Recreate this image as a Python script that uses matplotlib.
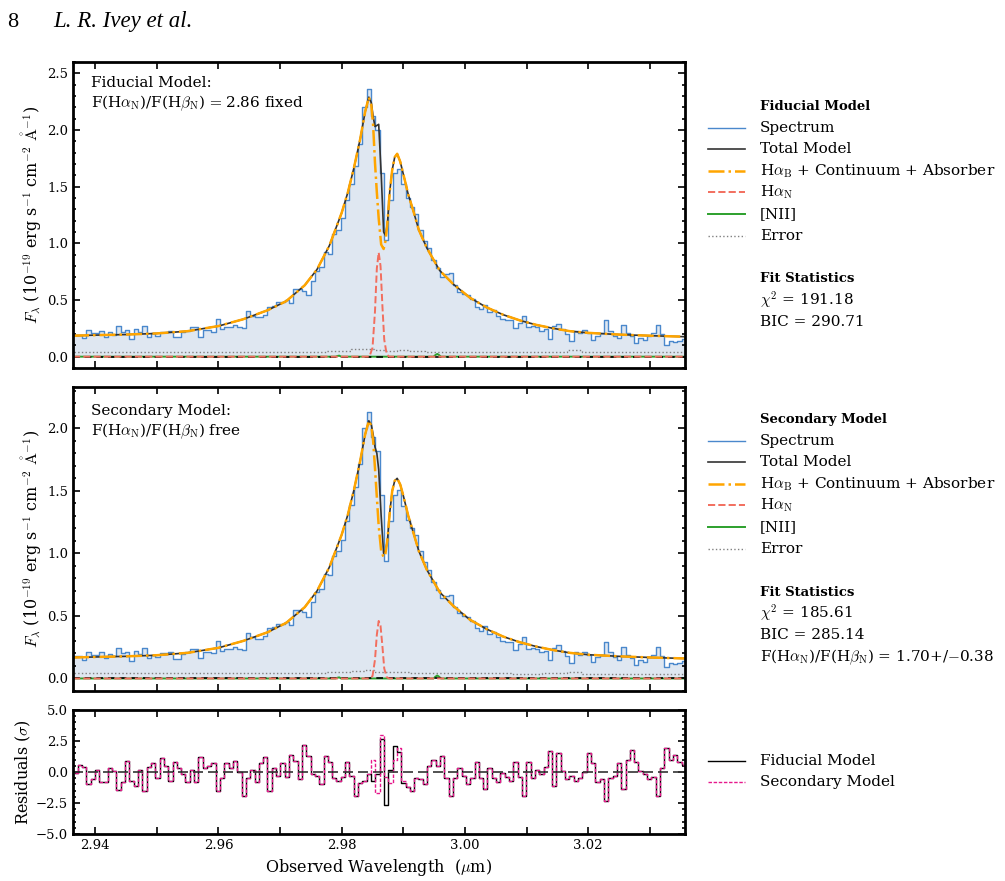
import numpy as np
import matplotlib
matplotlib.use("Agg")
import matplotlib.pyplot as plt
from matplotlib.lines import Line2D
from matplotlib.ticker import MultipleLocator

plt.rcParams.update({
    "font.family": "serif",
    "font.serif": ["DejaVu Serif"],
    "mathtext.fontset": "cm",
    "font.size": 11,
})

# ---- data ----
wave = [
    2.9368, 2.9375, 2.9382, 2.9389, 2.9396, 2.9403, 2.9410, 2.9417, 2.9424, 2.9431,
    2.9438, 2.9445, 2.9452, 2.9459, 2.9466, 2.9473, 2.9480, 2.9487, 2.9494, 2.9501,
    2.9508, 2.9515, 2.9522, 2.9529, 2.9536, 2.9543, 2.9550, 2.9557, 2.9564, 2.9571,
    2.9578, 2.9585, 2.9592, 2.9599, 2.9606, 2.9613, 2.9620, 2.9627, 2.9634, 2.9641,
    2.9648, 2.9655, 2.9662, 2.9669, 2.9676, 2.9683, 2.9690, 2.9697, 2.9704, 2.9711,
    2.9718, 2.9725, 2.9732, 2.9739, 2.9746, 2.9753, 2.9760, 2.9767, 2.9774, 2.9781,
    2.9788, 2.9795, 2.9802, 2.9809, 2.9816, 2.9823, 2.9830, 2.9837, 2.9844, 2.9851,
    2.9858, 2.9865, 2.9872, 2.9879, 2.9886, 2.9893, 2.9900, 2.9907, 2.9914, 2.9921,
    2.9928, 2.9935, 2.9942, 2.9949, 2.9956, 2.9963, 2.9970, 2.9977, 2.9984, 2.9991,
    2.9998, 3.0005, 3.0012, 3.0019, 3.0026, 3.0033, 3.0040, 3.0047, 3.0054, 3.0061,
    3.0068, 3.0075, 3.0082, 3.0089, 3.0096, 3.0103, 3.0110, 3.0117, 3.0124, 3.0131,
    3.0138, 3.0145, 3.0152, 3.0159, 3.0166, 3.0173, 3.0180, 3.0187, 3.0194, 3.0201,
    3.0208, 3.0215, 3.0222, 3.0229, 3.0236, 3.0243, 3.0250, 3.0257, 3.0264, 3.0271,
    3.0278, 3.0285, 3.0292, 3.0299, 3.0306, 3.0313, 3.0320, 3.0327, 3.0334, 3.0341,
    3.0348, 3.0355,
]

flux_fid = [
    0.194, 0.194, 0.165, 0.235, 0.21, 0.206, 0.23, 0.176, 0.215, 0.194,
    0.27, 0.22, 0.235, 0.156, 0.24, 0.215, 0.27, 0.176, 0.206, 0.185,
    0.22, 0.22, 0.23, 0.17, 0.17, 0.215, 0.23, 0.26, 0.26, 0.176,
    0.235, 0.235, 0.22, 0.33, 0.24, 0.26, 0.26, 0.28, 0.26, 0.25,
    0.40, 0.36, 0.35, 0.35, 0.37, 0.44, 0.45, 0.48, 0.48, 0.50,
    0.47, 0.60, 0.60, 0.58, 0.54, 0.67, 0.76, 0.79, 0.92, 0.91,
    1.08, 1.12, 1.22, 1.38, 1.52, 1.68, 1.88, 2.20, 2.36, 2.12,
    2.00, 1.62, 1.03, 1.38, 1.62, 1.66, 1.52, 1.40, 1.32, 1.26,
    1.12, 1.02, 0.96, 0.85, 0.78, 0.70, 0.73, 0.74, 0.63, 0.57,
    0.55, 0.54, 0.51, 0.44, 0.42, 0.46, 0.39, 0.41, 0.36, 0.33,
    0.32, 0.32, 0.25, 0.30, 0.36, 0.26, 0.27, 0.26, 0.23, 0.24,
    0.16, 0.27, 0.29, 0.24, 0.20, 0.14, 0.23, 0.21, 0.235, 0.21,
    0.147, 0.185, 0.21, 0.32, 0.23, 0.185, 0.165, 0.28, 0.21, 0.18,
    0.12, 0.165, 0.147, 0.185, 0.21, 0.28, 0.20, 0.10, 0.14, 0.127,
    0.135, 0.156,
]

flux_sec = [
    0.177, 0.177, 0.150, 0.214, 0.191, 0.187, 0.209, 0.160, 0.196, 0.177,
    0.246, 0.200, 0.214, 0.142, 0.218, 0.196, 0.246, 0.160, 0.187, 0.168,
    0.200, 0.200, 0.209, 0.155, 0.155, 0.196, 0.209, 0.237, 0.237, 0.160,
    0.214, 0.214, 0.200, 0.300, 0.218, 0.237, 0.237, 0.255, 0.237, 0.228,
    0.364, 0.328, 0.319, 0.319, 0.337, 0.400, 0.410, 0.437, 0.437, 0.455,
    0.428, 0.546, 0.546, 0.528, 0.491, 0.610, 0.692, 0.719, 0.837, 0.828,
    0.983, 1.019, 1.110, 1.256, 1.383, 1.529, 1.711, 2.002, 2.130, 1.929,
    1.82, 1.47, 0.94, 1.26, 1.47, 1.51, 1.38, 1.27, 1.20, 1.15,
    1.02, 0.93, 0.87, 0.77, 0.71, 0.64, 0.66, 0.67, 0.57, 0.52,
    0.50, 0.49, 0.46, 0.40, 0.38, 0.42, 0.355, 0.373, 0.328, 0.30,
    0.29, 0.29, 0.228, 0.273, 0.328, 0.237, 0.246, 0.237, 0.209, 0.218,
    0.146, 0.246, 0.264, 0.218, 0.182, 0.127, 0.209, 0.191, 0.214, 0.191,
    0.134, 0.168, 0.191, 0.291, 0.209, 0.168, 0.150, 0.255, 0.191, 0.164,
    0.109, 0.150, 0.134, 0.168, 0.191, 0.255, 0.182, 0.091, 0.127, 0.116,
    0.123, 0.142,
]

resid_fid = [
    -0.1, 0.6, 0.4, -1.0, -0.6, 0.2, -0.8, -0.8, 0.35, 0.1,
    -1.45, -0.8, 0.9, -0.7, -1.1, 0.15, -1.5, 0.4, 0.7, -0.5,
    1.1, 0.5, -0.7, 0.8, 0.3, -0.2, -0.8, 0.2, -0.8, 1.2,
    0.3, 0.5, 0.7, -1.5, -0.5, 0.7, 0.3, 0.9, 0.0, -1.9,
    -0.5, 0.2, -0.8, 0.7, 1.2, -1.5, 0.3, -0.3, 0.7, -0.4,
    1.4, 0.9, -0.6, 2.2, 1.3, -0.2, -0.3, -1.0, 1.3, 0.8,
    -0.5, -0.7, -0.4, 0.8, -0.3, -1.9, -0.9, -0.7, -0.2, -0.7,
    -0.2, 2.7, -2.7, 0.2, 2.1, 1.6, -0.9, -1.2, -1.5, -0.5,
    -0.6, -1.0, 0.5, 1.0, 0.5, 1.3, -0.5, -1.9, -0.5, 0.3,
    -0.3, -1.0, -0.5, 0.8, -0.5, -1.4, 0.3, -0.5, -0.8, -0.1,
    -0.4, -0.7, 0.8, -0.4, -1.9, 0.8, -0.5, 0.2, -0.2, 0.4,
    1.7, -1.1, 1.5, 0.1, -0.6, -0.3, -0.7, -0.5, 0.0, 1.5,
    0.7, -0.8, -0.6, -2.3, -0.5, -0.3, 0.7, -1.4, 1.0, 1.8,
    0.8, 0.1, -0.2, -0.6, -0.4, -1.9, 0.3, 1.9, 1.0, 1.4,
    0.8, 0.6,
]

resid_sec = [
    -0.1, 0.6, 0.4, -1.0, -0.6, 0.2, -0.8, -0.8, 0.35, 0.1,
    -1.45, -0.8, 0.9, -0.7, -1.1, 0.15, -1.5, 0.4, 0.7, -0.5,
    1.1, 0.5, -0.7, 0.8, 0.3, -0.2, -0.8, 0.2, -0.8, 1.2,
    0.3, 0.5, 0.7, -1.5, -0.5, 0.7, 0.3, 0.9, 0.0, -1.9,
    -0.5, 0.2, -0.8, 0.7, 1.2, -1.5, 0.3, -0.3, 0.7, -0.4,
    1.4, 0.9, -0.6, 2.2, 1.3, -0.2, -0.3, -1.0, 1.3, 0.8,
    -0.5, -0.7, -0.4, 0.8, -0.3, -1.9, -0.9, -0.7, -0.2, 1.0,
    -1.7, 3.0, -0.4, -0.9, 1.0, 1.9, -0.7, -1.2, -1.5, -0.5,
    -0.6, -1.0, 0.5, 1.0, 0.5, 1.3, -0.5, -1.9, -0.5, 0.3,
    -0.3, -1.0, -0.5, 0.8, -0.5, -1.4, 0.3, -0.5, -0.8, -0.1,
    -0.4, -0.7, 0.8, -0.4, -1.9, 0.8, -0.5, 0.2, -0.2, 0.4,
    1.7, -1.1, 1.5, 0.1, -0.6, -0.3, -0.7, -0.5, 0.0, 1.5,
    0.7, -0.8, -0.6, -2.3, -0.5, -0.3, 0.7, -1.4, 1.0, 1.8,
    0.8, 0.1, -0.2, -0.6, -0.4, -1.9, 0.3, 1.9, 1.0, 1.4,
    0.8, 0.6,
]

err_wave = [2.9365, 2.945, 2.955, 2.965, 2.975, 2.980, 2.983, 2.9845, 2.986,
            2.988, 2.990, 2.992, 2.995, 3.000, 3.005, 3.010, 3.015, 3.018,
            3.020, 3.025, 3.030, 3.0355]
err_fid = [0.045, 0.045, 0.045, 0.045, 0.045, 0.05, 0.065, 0.07, 0.055,
           0.05, 0.06, 0.05, 0.045, 0.045, 0.04, 0.04, 0.045, 0.055,
           0.04, 0.04, 0.04, 0.04]
err_sec = [0.04, 0.04, 0.04, 0.04, 0.045, 0.05, 0.06, 0.065, 0.05,
           0.05, 0.055, 0.045, 0.04, 0.04, 0.04, 0.035, 0.04, 0.05,
           0.035, 0.035, 0.035, 0.035]

model_wave = [2.9364, 2.940, 2.945, 2.950, 2.955, 2.960, 2.964, 2.968, 2.971,
              2.974, 2.976, 2.978, 2.980, 2.981, 2.982, 2.983, 2.9838, 2.9844,
              2.9848, 2.9851, 2.9854, 2.9857, 2.9860, 2.9864, 2.9868, 2.9871,
              2.9874, 2.9878, 2.9882, 2.9886, 2.9890, 2.9895, 2.9900, 2.9908,
              2.9916, 2.9925, 2.9938, 2.9959, 2.9981, 3.0008, 3.0035, 3.0062,
              3.0089, 3.0116, 3.0143, 3.017, 3.020, 3.025, 3.030, 3.0357]
broad_fid = [0.185, 0.19, 0.195, 0.205, 0.225, 0.27, 0.33, 0.41, 0.49,
             0.63, 0.77, 0.98, 1.27, 1.45, 1.67, 1.92, 2.16, 2.29,
             2.22, 2.04, 1.71, 1.45, 1.22, 0.99, 0.95, 1.02,
             1.17, 1.46, 1.65, 1.76, 1.79, 1.72, 1.61, 1.43,
             1.29, 1.12, 0.96, 0.76, 0.64, 0.52, 0.435, 0.37,
             0.32, 0.28, 0.25, 0.225, 0.21, 0.195, 0.185, 0.176]
total_fid = [0.185, 0.19, 0.195, 0.205, 0.225, 0.27, 0.33, 0.41, 0.49,
             0.63, 0.77, 0.98, 1.27, 1.45, 1.67, 1.92, 2.16, 2.29,
             2.24, 2.12, 2.03, 2.04, 2.05, 1.62, 1.10, 1.07,
             1.17, 1.46, 1.65, 1.76, 1.79, 1.72, 1.61, 1.43,
             1.29, 1.12, 0.96, 0.76, 0.64, 0.52, 0.435, 0.37,
             0.32, 0.28, 0.25, 0.225, 0.21, 0.195, 0.185, 0.176]
broad_sec = [0.168, 0.172, 0.177, 0.186, 0.205, 0.245, 0.30, 0.37, 0.445,
             0.57, 0.70, 0.89, 1.15, 1.31, 1.51, 1.74, 1.95, 2.06,
             2.02, 1.90, 1.68, 1.45, 1.22, 1.02, 0.97, 1.00,
             1.10, 1.33, 1.50, 1.58, 1.60, 1.55, 1.46, 1.30,
             1.17, 1.02, 0.87, 0.69, 0.58, 0.47, 0.395, 0.335,
             0.29, 0.255, 0.227, 0.205, 0.19, 0.177, 0.168, 0.16]
total_sec = [0.168, 0.172, 0.177, 0.186, 0.205, 0.245, 0.30, 0.37, 0.445,
             0.57, 0.70, 0.89, 1.15, 1.31, 1.51, 1.74, 1.95, 2.06,
             2.03, 1.95, 1.85, 1.80, 1.67, 1.30, 1.00, 1.02,
             1.10, 1.33, 1.50, 1.58, 1.60, 1.55, 1.46, 1.30,
             1.17, 1.02, 0.87, 0.69, 0.58, 0.47, 0.395, 0.335,
             0.29, 0.255, 0.227, 0.205, 0.19, 0.177, 0.168, 0.16]

narrow_wave = [2.9364, 2.9845, 2.9850, 2.9854, 2.9857, 2.9860, 2.9863, 2.9866,
               2.9869, 2.9873, 2.9877, 3.0357]
narrow_fid = [0.0, 0.0, 0.08, 0.40, 0.78, 0.92, 0.80, 0.45, 0.15, 0.02, 0.0, 0.0]
narrow_sec = [0.0, 0.0, 0.02, 0.15, 0.35, 0.46, 0.42, 0.26, 0.08, 0.01, 0.0, 0.0]

nii_wave = [2.9364, 2.9790, 2.9793, 2.9796, 2.9799, 2.9949, 2.9952, 2.9955,
            2.9958, 2.9961, 3.0357]
nii_flux = [0.0, 0.0, 0.006, 0.009, 0.0, 0.0, 0.014, 0.024, 0.014, 0.0, 0.0]

stats_fid = [r"$\chi^2$ = 191.18", "BIC = 290.71"]
stats_sec = [r"$\chi^2$ = 185.61", "BIC = 285.14",
             r"F(H$\alpha_{\rm N}$)/F(H$\beta_{\rm N}$) = 1.70+/$-$0.38"]

# ---- styles ----
FILL = "#dfe7f1"
SPEC = "#4a88cc"
st_spec = dict(color=SPEC, lw=1.0)
st_total = dict(color="#333333", lw=1.2)
st_broad = dict(color="orange", lw=1.8, ls="-.")
st_narrow = dict(color="#f26e5e", lw=1.4, ls="--")
st_nii = dict(color="#2ca02c", lw=1.4)
st_err = dict(color="gray", lw=1.0, ls=":")
MAG = "#e6198c"

W, H = 1005, 881
fig = plt.figure(figsize=(W / 100, H / 100), dpi=100)


def fx(px):
    return px / W


def fy(py):
    return 1 - py / H


ax1 = fig.add_axes([fx(73), fy(368), fx(685) - fx(73), fy(62) - fy(368)])
ax2 = fig.add_axes([fx(73), fy(691), fx(685) - fx(73), fy(387) - fy(691)])
ax3 = fig.add_axes([fx(73), fy(834), fx(685) - fx(73), fy(710) - fy(834)])

YLAB = (r"$F_\lambda$ (10$^{-19}$ erg s$^{-1}$ cm$^{-2}$ "
        r"$\mathrm{\mathring{A}}^{-1}$)")


def spec_panel(ax, flux, err, broad, total, narrow):
    ax.fill_between(wave, 0, flux, step="mid", color=FILL, lw=0)
    ax.step(wave, flux, where="mid", **st_spec)
    ax.step(err_wave, err, where="mid", **st_err)
    ax.plot(nii_wave, nii_flux, **st_nii)
    ax.axhline(0, color="k", lw=1.2, ls=(0, (4, 3)))
    ax.plot(narrow_wave, narrow, **st_narrow)
    ax.plot(model_wave, total, **st_total)
    ax.plot(model_wave, broad, **st_broad)
    ax.yaxis.set_major_locator(MultipleLocator(0.5))
    ax.yaxis.set_minor_locator(MultipleLocator(0.1))
    ax.set_ylabel(YLAB, fontsize=11.5, labelpad=2)
    ax.tick_params(labelbottom=False)


spec_panel(ax1, flux_fid, err_fid, broad_fid, total_fid, narrow_fid)
ax1.set_ylim(-0.1, 2.6)
ax1.text(0.03, 0.955, "Fiducial Model:\n"
         r"F(H$\alpha_{\rm N}$)/F(H$\beta_{\rm N}$)$\,=\,$2.86 fixed",
         transform=ax1.transAxes, va="top", ha="left", linespacing=1.25)

spec_panel(ax2, flux_sec, err_sec, broad_sec, total_sec, narrow_sec)
ax2.set_ylim(-0.1, 2.33)
ax2.text(0.03, 0.945, "Secondary Model:\n"
         r"F(H$\alpha_{\rm N}$)/F(H$\beta_{\rm N}$) free",
         transform=ax2.transAxes, va="top", ha="left", linespacing=1.25)

ax3.step(wave, resid_fid, where="mid", color="black", lw=1.0)
ax3.step(wave, resid_sec, where="mid", color=MAG, lw=1.0, ls=(0, (2.5, 1.2)))
ax3.axhline(0, color="#333333", lw=1.2, ls=(0, (6, 3)))
ax3.set_ylim(-5, 5)
ax3.yaxis.set_major_locator(MultipleLocator(2.5))
ax3.yaxis.set_minor_locator(MultipleLocator(0.5))
ax3.set_ylabel(r"Residuals ($\sigma$)", fontsize=11.5, labelpad=2)
ax3.set_xlabel(r"Observed Wavelength  ($\mu$m)", fontsize=11.5)

for ax in (ax1, ax2, ax3):
    ax.set_xlim(2.9364, 3.0357)
    ax.xaxis.set_major_locator(MultipleLocator(0.02))
    ax.xaxis.set_minor_locator(MultipleLocator(0.01))
    ax.tick_params(which="both", direction="in", top=True, right=True,
                   width=1.2, labelsize=9.5)
    ax.tick_params(which="major", length=5)
    ax.tick_params(which="minor", length=2.5)
    ax.tick_params(axis="x", which="minor", length=5)
    for s in ax.spines.values():
        s.set_linewidth(2)

# ---- side legends ----
X0, X1, XT = 708, 745, 760
ROW = 21.6
entries = [(st_spec, "Spectrum"), (st_total, "Total Model"),
           (st_broad, r"H$\alpha_{\rm B}$ + Continuum + Absorber"),
           (st_narrow, r"H$\alpha_{\rm N}$"), (st_nii, "[NII]"),
           (st_err, "Error")]


def side_block(title, y0, stats, ystat):
    fig.text(fx(XT), fy(y0), title, weight="bold", fontsize=9.5, va="center")
    for i, (st, lab) in enumerate(entries):
        y = y0 + ROW * (i + 1)
        fig.add_artist(Line2D([fx(X0), fx(X1)], [fy(y), fy(y)], **st))
        fig.text(fx(XT), fy(y), lab, va="center")
    fig.text(fx(XT), fy(ystat), "Fit Statistics", weight="bold",
             fontsize=9.5, va="center")
    for i, s in enumerate(stats):
        fig.text(fx(XT), fy(ystat + ROW * (i + 1)), s, va="center")


side_block("Fiducial Model", 106, stats_fid, 279)
side_block("Secondary Model", 419, stats_sec, 592)

fig.add_artist(Line2D([fx(X0), fx(X1)], [fy(761), fy(761)], color="black", lw=1.0))
fig.text(fx(XT), fy(761), "Fiducial Model", va="center")
fig.add_artist(Line2D([fx(X0), fx(X1)], [fy(782), fy(782)], color=MAG,
                      lw=1.0, ls=(0, (2.5, 1.2))))
fig.text(fx(XT), fy(782), "Secondary Model", va="center")

# running header
fig.text(fx(7), fy(27), "8", family="Liberation Serif", fontsize=16)
fig.text(fx(53), fy(27), "L. R. Ivey et al.", family="Liberation Serif",
         style="italic", fontsize=16.5)

fig.savefig("out.png", dpi=100)
